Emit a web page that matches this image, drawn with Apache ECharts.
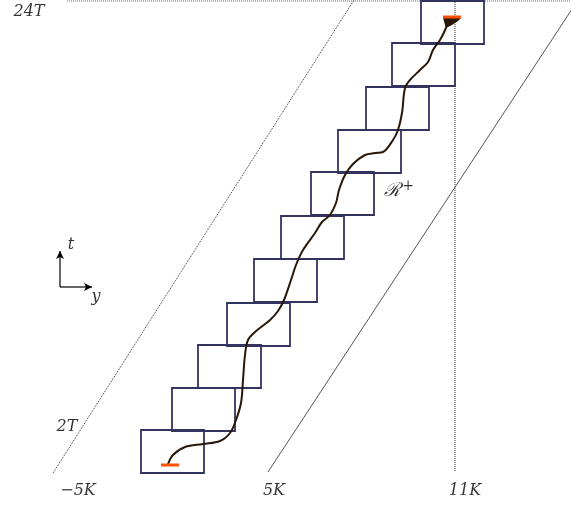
<!DOCTYPE html>
<html>
<head>
<meta charset="utf-8">
<script src="https://cdn.jsdelivr.net/npm/echarts@6/dist/echarts.min.js"></script>
<style>
  html, body { margin: 0; padding: 0; background: #fff; }
  #main { width: 571px; height: 505px; }
</style>
</head>
<body>
<div id="main"></div>
<script>
// diagram units (y grows downward, like the page)
var boxLeft = [141, 172, 198, 227, 254, 281, 311, 338, 366, 392, 421];
var boxTop = [430, 388, 345, 303, 259, 216, 172, 130, 87, 43, 1];
var BOX_W = 63, BOX_H = 43;

// path of the curve through the boxes
var pathPts = [
  [168, 464], [173, 455], [185, 447], [203, 444], [220, 441], [230, 433],
  [236, 420], [241, 403], [243, 380], [245, 355], [248, 340], [255, 332],
  [270, 320], [278, 311], [284, 300], [291, 280], [296, 265], [303, 250],
  [315, 233], [322, 222], [330, 215], [336, 203], [339, 190], [345, 175],
  [353, 164], [365, 155], [375, 153], [383, 152], [393, 140], [398, 130],
  [402, 113], [405, 88], [410, 80], [420, 70], [428, 62], [433, 50],
  [440, 40], [446, 28], [448, 21]
];

var startBar = [[161, 465], [179, 465]];
var endBar = [[443, 17], [461, 17]];
var fanPts = [[443, 18], [461, 18], [458, 21], [452, 25], [446, 28]];

var leftCone = [[53, 473], [354, 0]];
var rightCone = [[268, 472], [576, 3]];
var topLine = [[67, 1], [571, 1]];
var vertLine = [[455, 0], [455, 472]];

var tAxisArrow = [[60, 287], [60, 251]];
var yAxisArrow = [[60, 287], [92, 287]];

var labels = [
  { name: '24T', pos: [29, 12] },
  { name: '2T', pos: [67, 427] },
  { name: '\u22125K', pos: [78, 491] },
  { name: '5K', pos: [274, 491] },
  { name: '11K', pos: [465, 491] },
  { name: 't', pos: [71, 245] },
  { name: 'y', pos: [96, 297] }
];

var chart = echarts.init(document.getElementById('main'));

function straight(pts, color, type, width, z) {
  return {
    type: 'line',
    data: pts,
    symbol: 'none',
    silent: true,
    z: z || 2,
    lineStyle: { color: color, type: type, width: width }
  };
}

var series = [];
series.push(straight(topLine, '#666', 'dotted', 1));
series.push(straight(vertLine, '#333', 'dotted', 1));
series.push(straight(leftCone, '#333', 'dotted', 1));
series.push(straight(rightCone, '#555', 'solid', 1));

// boxes
series.push({
  type: 'custom',
  silent: true,
  z: 3,
  data: boxLeft.map(function (x, i) { return [x, boxTop[i]]; }),
  renderItem: function (params, api) {
    var p0 = api.coord([api.value(0), api.value(1)]);
    var p1 = api.coord([api.value(0) + BOX_W, api.value(1) + BOX_H]);
    return {
      type: 'rect',
      shape: { x: p0[0], y: p0[1], width: p1[0] - p0[0], height: p1[1] - p0[1] },
      style: { fill: 'none', stroke: '#333360', lineWidth: 1.8 }
    };
  }
});

// curve
series.push({
  type: 'line',
  data: pathPts,
  symbol: 'none',
  smooth: 0.35,
  silent: true,
  z: 5,
  lineStyle: { color: '#2a1708', width: 2 }
});

series.push(straight(startBar, '#ff5000', 'solid', 3, 6));
series.push(straight(endBar, '#ff5000', 'solid', 3, 6));

// fan at the end
series.push({
  type: 'custom',
  silent: true,
  z: 5,
  data: [0],
  renderItem: function (params, api) {
    return {
      type: 'polygon',
      shape: { points: fanPts.map(function (p) { return api.coord(p); }) },
      style: { fill: '#2a1708' }
    };
  }
});

// little t / y axes
series.push({
  type: 'line', silent: true, z: 4,
  data: [{ value: tAxisArrow[0], symbol: 'none' }, { value: tAxisArrow[1], symbol: 'arrow', symbolSize: [6, 8] }],
  showAllSymbol: true,
  itemStyle: { color: '#000' },
  lineStyle: { color: '#000', width: 1.2 }
});
series.push({
  type: 'line', silent: true, z: 4,
  data: [{ value: yAxisArrow[0], symbol: 'none' }, { value: yAxisArrow[1], symbol: 'arrow', symbolSize: [6, 8], symbolRotate: -90 }],
  showAllSymbol: true,
  itemStyle: { color: '#000' },
  lineStyle: { color: '#000', width: 1.2 }
});

// text labels
series.push({
  type: 'scatter',
  silent: true,
  symbolSize: 0,
  z: 7,
  data: labels.map(function (l) { return { name: l.name, value: l.pos }; }),
  label: {
    show: true,
    position: 'inside',
    formatter: '{b}',
    color: '#000',
    fontFamily: 'DejaVu Serif',
    fontStyle: 'italic',
    fontSize: 16
  }
});
series.push({
  type: 'scatter',
  silent: true,
  symbolSize: 0,
  z: 7,
  data: [{ value: [399, 191] }],
  label: {
    show: true,
    position: 'inside',
    formatter: '{r|\u211B}{s|+}',
    rich: {
      r: { fontFamily: 'DejaVu Serif', fontStyle: 'italic', fontSize: 19, color: '#000' },
      s: { fontFamily: 'DejaVu Serif', fontSize: 14, color: '#000', verticalAlign: 'top', padding: [0, 0, 9, 1] }
    }
  }
});

chart.setOption({
  animation: false,
  backgroundColor: '#fff',
  grid: { left: 0, right: 0, top: 0, bottom: 0 },
  xAxis: { type: 'value', min: 0, max: 571, show: false },
  yAxis: { type: 'value', min: 0, max: 505, inverse: true, show: false },
  series: series
});
</script>
</body>
</html>
